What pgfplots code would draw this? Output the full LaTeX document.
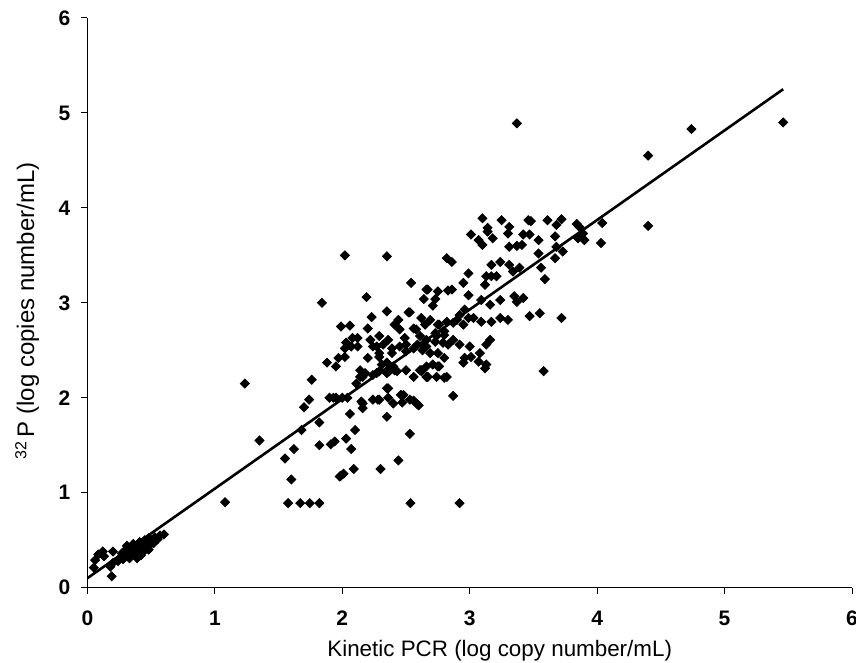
\documentclass[border=0pt]{standalone}
\usepackage{fontspec}
\setmainfont{Liberation Sans}
\usepackage{pgfplots}
\pgfplotsset{compat=1.18}

\begin{document}
\begin{tikzpicture}
\begin{axis}[
    scale only axis,
    width=382.5pt, height=285pt,
    xmin=0, xmax=6, ymin=0, ymax=6,
    xtick={0,...,6}, ytick={0,...,6},
    axis x line*=bottom, axis y line*=left,
    axis line style={black, line width=0.5pt, -},
    tick align=outside,
    major tick length=3pt,
    tick style={black, line width=0.5pt},
    /pgf/number format/assume math mode=true,
    ticklabel style={font=\bfseries\fontsize{10.5}{12}\selectfont},
    xticklabel style={yshift=-5pt},
    yticklabel style={xshift=-2pt},
    xlabel={Kinetic PCR (log copy number/mL)},
    ylabel={\raisebox{0.6ex}{\fontsize{8}{9}\selectfont 32}\,P (log copies number/mL)},
    xlabel style={font=\fontsize{11.2}{13}\selectfont, xshift=15pt, yshift=-0.5pt},
    ylabel style={font=\fontsize{12}{14}\selectfont, xshift=-4pt, yshift=3pt},
    clip=false,
]
\coordinate (o) at (rel axis cs:0,0);
\coordinate (t) at (rel axis cs:1,1);

% regression line
\addplot[black, line width=1.3pt] coordinates {(0,0.1) (5.46,5.25)};

% samples
\addplot[only marks, mark=square*, mark size=1.6pt,
         mark options={rotate=45, fill=black, draw=black}] coordinates {
(0.05,0.21) (0.06,0.29) (0.085,0.35) (0.12,0.38) (0.13,0.33) (0.19,0.12)
(0.18,0.22) (0.20,0.26) (0.20,0.38) (0.24,0.28) (0.26,0.32) (0.27,0.36)
(0.28,0.30) (0.30,0.34) (0.30,0.40) (0.31,0.44) (0.32,0.37) (0.33,0.31)
(0.34,0.41) (0.35,0.36) (0.36,0.46) (0.37,0.39) (0.38,0.33) (0.39,0.31)
(0.39,0.43) (0.40,0.37) (0.41,0.48) (0.42,0.41) (0.43,0.45) (0.44,0.38)
(0.45,0.50) (0.46,0.43) (0.47,0.47) (0.48,0.52) (0.49,0.45) (0.50,0.50)
(0.52,0.47) (0.53,0.53) (0.55,0.51) (0.57,0.55) (0.60,0.56) (0.35,0.44)
(0.42,0.34) (0.48,0.40)
(1.08,0.90) (1.235,2.15) (1.35,1.55)
(1.76,2.19) (1.88,2.37) (1.95,2.33) (1.74,1.98) (1.70,1.90) (1.90,2.00)
(1.95,2.00) (1.82,1.74) (1.68,1.66) (1.62,1.46) (1.55,1.36) (1.82,1.50)
(1.91,1.51) (1.94,1.54) (1.60,1.14) (1.575,0.89) (1.67,0.89) (1.745,0.89)
(1.82,0.89) (1.98,1.17)
(2.00,2.00) (2.04,2.00) (2.06,1.83) (2.10,1.66) (2.03,1.57) (2.07,1.46)
(2.09,1.25) (1.99,1.18) (2.01,1.20) (2.30,1.25) (2.44,1.34) (2.53,1.62)
(2.35,1.80) (2.535,0.89) (2.92,0.89) (2.15,1.96) (2.16,1.89) (2.24,1.98)
(2.29,1.98) (2.35,2.10) (2.36,2.00) (2.40,1.94) (2.48,2.03) (2.47,1.95)
(2.56,1.97) (2.60,1.92) (2.67,2.22) (2.62,2.28) (2.80,2.21) (2.87,2.02)
(2.14,2.22) (2.18,2.26) (2.24,2.24) (2.29,2.28) (2.37,2.28) (2.43,2.28)
(2.02,3.50) (2.35,3.49) (2.54,3.21) (2.66,3.14) (2.64,3.04) (1.84,3.00)
(2.19,3.06) (2.23,2.85) (2.35,2.91) (2.53,2.90) (2.44,2.82) (2.41,2.77)
(2.45,2.72) (2.62,2.84) (2.65,2.77) (1.99,2.75) (2.06,2.76) (2.20,2.73)
(2.56,2.73) (2.03,2.58) (2.07,2.54) (2.12,2.63) (2.22,2.61) (2.24,2.54)
(2.29,2.65) (2.32,2.56) (2.36,2.61) (2.39,2.52) (2.49,2.63) (2.50,2.56)
(2.61,2.65) (2.66,2.61) (2.59,2.56) (2.63,2.50) (1.97,2.42) (2.02,2.43)
(2.20,2.42) (2.29,2.43) (2.35,2.37) (2.41,2.29) (2.50,2.29) (2.56,2.22)
(2.62,2.29)
(2.67,3.14) (2.75,3.12) (2.83,3.13) (2.73,3.04) (2.71,2.97) (2.52,2.90)
(2.69,2.82) (2.75,2.77) (2.82,2.80) (2.58,2.72) (2.73,2.68) (2.80,2.70)
(2.63,2.56) (2.73,2.59) (2.79,2.58) (2.08,2.63) (2.12,2.54) (2.02,2.52)
(2.27,2.54) (2.29,2.47) (2.39,2.47) (2.45,2.54) (2.50,2.49) (2.56,2.52)
(2.14,2.29) (2.16,2.22) (2.11,2.15) (2.27,2.26) (2.35,2.26) (2.31,2.35)
(2.40,2.33) (2.61,2.29) (2.67,2.22) (2.75,2.33) (2.36,2.10) (1.93,2.00)
(2.16,1.94) (2.28,1.98) (2.46,2.03) (2.53,1.98) (2.59,1.93)
(3.01,3.72) (3.07,3.66) (3.10,3.61) (3.14,3.75) (3.18,3.68) (3.30,3.73)
(3.31,3.59) (3.37,3.60) (3.41,3.61) (3.42,3.72) (3.47,3.72) (3.54,3.66)
(3.67,3.70) (3.68,3.59) (3.73,3.54) (2.82,3.47) (2.86,3.43) (3.54,3.52)
(3.67,3.47) (3.17,3.40) (3.24,3.43) (3.31,3.40) (3.34,3.33) (3.39,3.37)
(2.99,3.31) (3.13,3.28) (3.17,3.28) (3.21,3.28) (3.12,3.19) (3.56,3.37)
(3.59,3.25) (2.95,3.21) (2.86,3.14) (2.99,3.08) (3.09,3.03) (3.16,2.98)
(3.24,3.03) (3.35,3.07) (3.42,3.05) (3.37,3.01) (2.96,2.93) (2.92,2.87)
(2.99,2.84) (2.90,2.82) (2.95,2.77) (2.87,2.79) (3.03,2.84) (3.09,2.80)
(3.17,2.80) (3.24,2.84) (3.30,2.82) (3.47,2.86) (3.55,2.89) (3.72,2.84)
(2.76,2.77) (2.74,2.65) (2.80,2.66) (2.87,2.61) (2.83,2.56) (2.92,2.56)
(3.00,2.54) (3.13,2.56) (3.16,2.61) (3.08,2.47) (3.01,2.43) (2.96,2.42)
(3.07,2.38) (3.13,2.35) (3.12,2.31) (2.66,2.54) (2.69,2.47) (2.75,2.47)
(2.80,2.42) (2.66,2.33) (2.71,2.35) (2.76,2.33) (2.82,2.22) (2.74,2.22)
(2.66,2.22) (2.95,2.37) (3.58,2.28)
(3.37,4.89) (3.10,3.89) (3.25,3.87) (3.31,3.80) (3.46,3.87) (3.48,3.86)
(3.61,3.87) (3.72,3.88) (3.68,3.82) (3.84,3.83) (3.86,3.80) (3.14,3.79)
(3.85,3.68)
(3.89,3.73) (3.90,3.66) (4.04,3.84) (4.03,3.63) (4.40,3.81) (4.40,4.55)
(4.74,4.83) (5.46,4.90)
};
\end{axis}
\pgfresetboundingbox
\path[use as bounding box] ([shift={(-43.75pt,-37.5pt)}]o) rectangle ([shift={(2pt,9pt)}]t);
\end{tikzpicture}
\end{document}
